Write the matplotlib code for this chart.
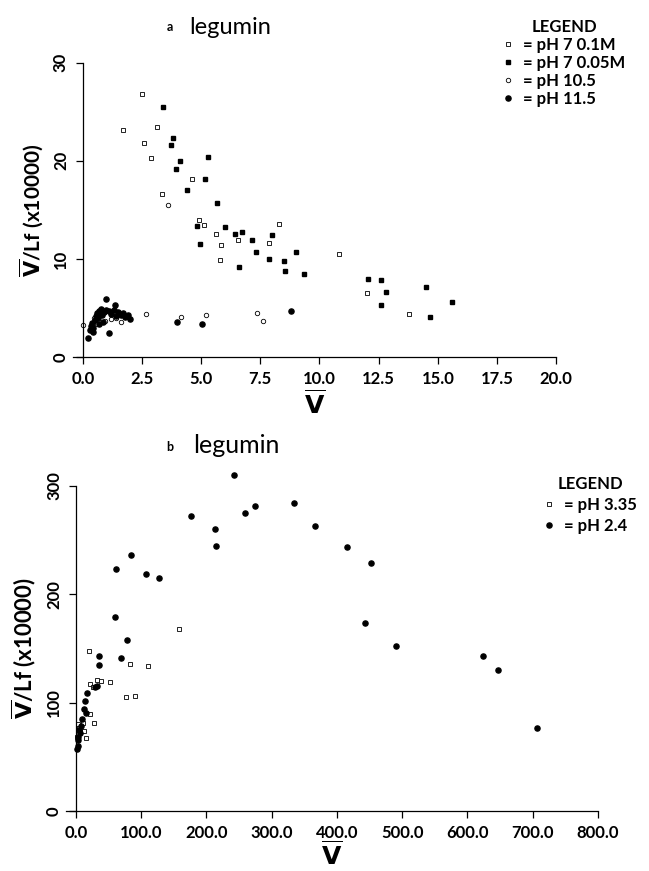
import matplotlib.pyplot as plt
from matplotlib.lines import Line2D

plt.rcParams["font.family"] = ["Lato", "DejaVu Sans"]
plt.rcParams["mathtext.fontset"] = "dejavusans"

# ---- panel a data (V-bar, V-bar/Lf x10000) ----
a_ph7_01_x = [2.52, 1.68, 3.14, 2.59, 2.9, 4.6, 3.35, 4.9, 5.13, 5.64, 5.83, 5.79,
              6.54, 7.85, 8.27, 10.84, 12.0, 13.8]
a_ph7_01_y = [26.8, 23.1, 23.4, 21.8, 20.3, 18.2, 16.6, 14.0, 13.5, 12.5, 11.4, 9.9,
              11.9, 11.6, 13.6, 10.5, 6.5, 4.4]

a_ph7_005_x = [3.4, 3.79, 3.73, 4.1, 3.93, 5.3, 5.16, 4.41, 5.67, 4.83, 6.0, 6.44,
               6.72, 4.96, 7.16, 7.99, 7.3, 9.0, 7.86, 8.49, 8.53, 6.61, 9.33,
               12.06, 12.6, 12.8, 12.6, 14.5, 14.66, 15.6]
a_ph7_005_y = [25.5, 22.3, 21.6, 20.0, 19.2, 20.4, 18.1, 17.0, 15.7, 13.4, 13.3, 12.5,
               12.7, 11.5, 11.9, 12.4, 10.7, 10.7, 10.0, 9.8, 8.8, 9.15, 8.5,
               7.96, 7.86, 6.66, 5.3, 7.1, 4.1, 5.6]

a_ph105_x = [3.6, 2.66, 4.13, 5.21, 7.37, 7.6, 0.0, 0.47, 0.92, 1.6, 1.93, 1.4, 0.6, 1.2]
a_ph105_y = [15.5, 4.35, 4.05, 4.25, 4.5, 3.64, 3.3, 3.95, 3.7, 3.6, 4.1, 4.0, 3.4, 3.9]

a_ph115_x = [0.3, 0.35, 0.4, 0.45, 0.5, 0.55, 0.6, 0.65, 0.7, 0.75, 0.8, 0.85, 0.9,
             0.97, 1.0, 1.1, 1.11, 1.2, 1.3, 1.38, 1.4, 1.5, 1.6, 1.7, 1.8, 1.9, 2.0,
             0.24, 3.97, 5.03, 8.8, 0.45, 0.7]
a_ph115_y = [2.8, 3.2, 3.5, 3.0, 3.8, 4.2, 4.5, 4.0, 4.7, 4.9, 4.3, 3.6, 4.6,
             5.95, 4.8, 4.7, 2.48, 4.4, 4.8, 5.27, 4.2, 4.6, 4.3, 4.5, 4.1, 4.3, 3.9,
             1.94, 3.6, 3.37, 4.7, 2.6, 3.4]

# ---- panel b data ----
b_ph335_x = [157.4, 19.2, 83.2, 110.0, 52.6, 38.8, 32.7, 21.0, 26.0, 76.6, 91.0,
             21.5, 27.6, 14.9, 11.8, 10.5, 4.6, 1.5, 3.5]
b_ph335_y = [168.0, 147.2, 135.7, 134.2, 118.7, 120.3, 121.0, 117.0, 114.8, 105.0, 106.2,
             89.3, 81.0, 67.7, 73.9, 81.0, 76.4, 68.6, 80.3]

b_ph24_x = [242.0, 176.0, 213.5, 214.0, 258.5, 274.0, 334.6, 366.0, 84.3, 60.8, 106.8,
            127.0, 59.8, 77.7, 35.2, 69.0, 415.8, 451.6, 443.4, 490.9, 624.8, 647.8,
            707.0, 35.2, 17.3, 13.3, 31.7, 29.0, 12.7, 14.9, 9.7, 8.1, 4.6, 6.1, 2.6,
            2.6, 2.0, 3.5]
b_ph24_y = [310.0, 272.7, 260.0, 245.0, 275.4, 281.6, 284.4, 263.0, 236.4, 223.0, 219.0,
            215.0, 179.4, 158.2, 143.1, 141.0, 244.0, 228.5, 173.9, 152.4, 143.4, 130.2,
            76.6, 134.5, 109.3, 101.6, 115.7, 114.0, 94.0, 90.8, 85.0, 78.5, 74.8, 71.7,
            65.6, 60.0, 57.5, 68.5]

a_xticks = [0.0, 2.5, 5.0, 7.5, 10.0, 12.5, 15.0, 17.5, 20.0]
a_yticks = [0, 10, 20, 30]
b_xticks = [0.0, 100.0, 200.0, 300.0, 400.0, 500.0, 600.0, 700.0, 800.0]
b_yticks = [0, 100, 200, 300]

YLABEL = r"$\overline{\mathbf{V}}$/Lf (x10000)"
XLABEL = r"$\overline{\mathbf{V}}$"

# marker styles
OPEN_SQ = dict(ls="none", marker="s", ms=3.0, mfc="white", mec="black", mew=0.6)
FILL_SQ = dict(ls="none", marker="s", ms=3.5, color="black")
OPEN_CI = dict(ls="none", marker="o", ms=3.2, mfc="white", mec="black", mew=0.6)
FILL_CI = dict(ls="none", marker="o", ms=3.7, color="black")


def style_axes(ax, xticks, yticks, xfmt, ylabelsize, xlabelpad):
    for side in ["top", "right"]:
        ax.spines[side].set_visible(False)
    ax.spines["left"].set_position(("data", 0))
    ax.spines["left"].set_bounds(yticks[0], yticks[-1])
    for side in ["left", "bottom"]:
        ax.spines[side].set_linewidth(0.9)
    ax.set_xticks(xticks)
    ax.set_xticklabels([xfmt.format(t) for t in xticks])
    ax.set_yticks(yticks)
    ax.set_yticklabels([str(t) for t in yticks])
    ax.tick_params(axis="x", length=5, width=0.9, pad=5, labelsize=12)
    ax.tick_params(axis="y", length=5, width=0.9, pad=5, labelsize=12, labelrotation=90)
    for lbl in ax.get_xticklabels() + ax.get_yticklabels():
        lbl.set_fontweight("bold")
    for lbl in ax.get_yticklabels():
        lbl.set_va("center")
    ax.set_xlabel(XLABEL, fontsize=18, labelpad=xlabelpad)
    ax.set_ylabel(YLABEL, fontsize=ylabelsize, fontweight="bold", labelpad=6)


def add_legend(ax, handles, labels, anchor, spacing):
    ax.legend(handles, labels, title="LEGEND", loc="upper left", frameon=False,
              bbox_to_anchor=anchor, bbox_transform=fig.transFigure,
              handlelength=0.6, handletextpad=0.6, labelspacing=spacing,
              borderpad=0, borderaxespad=0, prop={"size": 12, "weight": "bold"},
              title_fontproperties={"size": 12, "weight": "bold"})


fig = plt.figure(figsize=(6.49, 8.71), dpi=100)

# panel a
ax1 = fig.add_axes([0.113, 0.590, 0.744, 0.338])
ax1.plot(a_ph7_01_x, a_ph7_01_y, clip_on=False, **OPEN_SQ)
ax1.plot(a_ph7_005_x, a_ph7_005_y, clip_on=False, **FILL_SQ)
ax1.plot(a_ph105_x, a_ph105_y, clip_on=False, **OPEN_CI)
ax1.plot(a_ph115_x, a_ph115_y, clip_on=False, **FILL_CI)
ax1.set_xlim(-0.4, 20)
ax1.set_ylim(0, 30)
style_axes(ax1, a_xticks, a_yticks, "{:.1f}", 15, 1)

add_legend(ax1,
           [Line2D([], [], **OPEN_SQ), Line2D([], [], **FILL_SQ),
            Line2D([], [], **OPEN_CI), Line2D([], [], **FILL_CI)],
           ["= pH 7 0.1M", "= pH 7 0.05M", "= pH 10.5", "= pH 11.5"],
           (0.775, 0.978), 0.12)

fig.text(0.262, 0.969, "a", fontsize=9, fontweight="bold", ha="center", va="center")
fig.text(0.291, 0.969, "legumin", fontsize=17, ha="left", va="center")

# panel b
ax2 = fig.add_axes([0.102, 0.069, 0.819, 0.373])
ax2.plot(b_ph335_x, b_ph335_y, clip_on=False, **OPEN_SQ)
ax2.plot(b_ph24_x, b_ph24_y, clip_on=False, **FILL_CI)
ax2.set_xlim(-15, 800)
ax2.set_ylim(0, 300)
style_axes(ax2, b_xticks, b_yticks, "{:.1f}", 16, -1)

add_legend(ax2,
           [Line2D([], [], **OPEN_SQ), Line2D([], [], **FILL_CI)],
           ["= pH 3.35", "= pH 2.4"],
           (0.838, 0.454), 0.3)

fig.text(0.262, 0.487, "b", fontsize=9, fontweight="bold", ha="center", va="center")
fig.text(0.297, 0.489, "legumin", fontsize=18, ha="left", va="center")

plt.savefig("out.png", dpi=100)
plt.close()
